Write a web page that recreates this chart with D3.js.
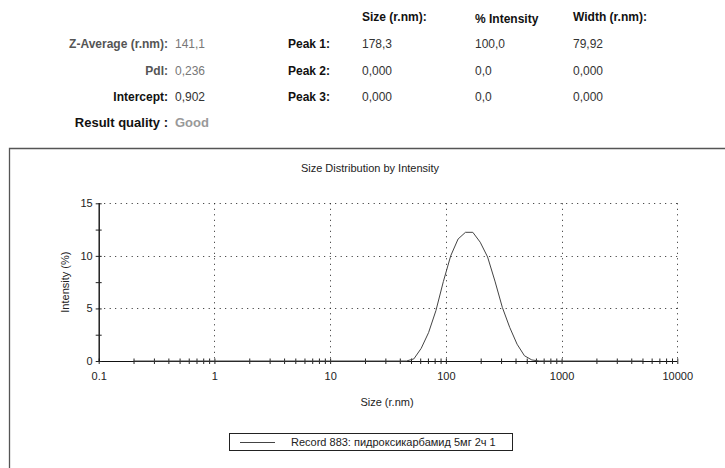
<!DOCTYPE html>
<html>
<head>
<meta charset="utf-8">
<script src="https://cdn.jsdelivr.net/npm/d3@7"></script>
<style>
  body { margin: 0; background: #fff; }
  svg { font-family: "Liberation Sans", Arial, sans-serif; display: block; }
</style>
</head>
<body>
<svg id="chart" width="725" height="468"></svg>
<script>
// summary block
const summaryLabels = ["Z-Average (r.nm):", "PdI:", "Intercept:", "Result quality :"]
const summaryValues = ["141,1", "0,236", "0,902", "Good"]
const peakHeaders = ["Size (r.nm):", "% Intensity", "Width (r.nm):"]
const peakLabels = ["Peak 1:", "Peak 2:", "Peak 3:"]
const peakSize = ["178,3", "0,000", "0,000"]
const peakIntensity = ["100,0", "0,0", "0,0"]
const peakWidth = ["79,92", "0,000", "0,000"]

// distribution (radius nm, intensity %)
const sizes = [0.2, 45.6, 52.9, 61.2, 70.9, 82.1, 95.1, 110.1, 127.5, 147.7, 171.0,
  198.0, 229.3, 265.6, 307.6, 356.2, 412.5, 477.7, 553.2, 640.6, 5000]
const intensity = [0, 0, 0.2, 1.2, 2.7, 4.8, 7.55, 10.0, 11.6, 12.24, 12.24,
  11.3, 9.9, 7.6, 5.1, 3.2, 1.6, 0.5, 0.1, 0, 0]

const xMajor = [0.1, 1, 10, 100, 1000, 10000]
const xMajorLabels = ["0.1", "1", "10", "100", "1000", "10000"]
const yMajor = [0, 5, 10, 15]
const yMinor = [2.5, 7.5, 12.5]
const legendLabel = "Record 883: пидроксикарбамид 5мг 2ч 1"

const svg = d3.select("#chart")

// ---- header table
const rowY = [48, 74.5, 101, 127]
const labelColors = ["#555", "#555", "#111", "#111"]
const valueColors = ["#777", "#777", "#333", "#999"]

summaryLabels.forEach((t, i) => {
  svg.append("text")
    .attr("x", 168).attr("y", rowY[i])
    .attr("text-anchor", "end")
    .attr("font-size", i == 3 ? 13 : 12)
    .attr("font-weight", "bold")
    .attr("fill", labelColors[i])
    .text(t)
  svg.append("text")
    .attr("x", 175).attr("y", rowY[i])
    .attr("font-size", i == 3 ? 13 : 12)
    .attr("font-weight", i == 3 ? "bold" : "normal")
    .attr("fill", valueColors[i])
    .text(summaryValues[i])
})

const colX = [362, 475, 573]
const headY = [21, 23, 21]
peakHeaders.forEach((t, i) => {
  svg.append("text")
    .attr("x", colX[i]).attr("y", headY[i])
    .attr("font-size", 12).attr("font-weight", "bold")
    .attr("fill", "#111")
    .text(t)
})
peakLabels.forEach((t, i) => {
  svg.append("text")
    .attr("x", 288).attr("y", rowY[i])
    .attr("font-size", 12).attr("font-weight", "bold")
    .attr("fill", "#111")
    .text(t)
  ;[peakSize, peakIntensity, peakWidth].forEach((col, j) => {
    svg.append("text")
      .attr("x", colX[j]).attr("y", rowY[i])
      .attr("font-size", 12)
      .attr("fill", "#333")
      .text(col[i])
  })
})

// ---- panel frame (continues past the window edge)
svg.append("path")
  .attr("d", "M9.5,480V148.5H730")
  .attr("fill", "none")
  .attr("stroke", "#555")
  .attr("stroke-width", 1.3)

const plot = {left: 98.7, right: 677.3, top: 203.3, bottom: 361}

const xScale = d3.scaleLog().domain([0.1, 10000]).range([plot.left, plot.right])
const yScale = d3.scaleLinear().domain([0, 15]).range([plot.bottom, plot.top])

svg.append("text")
  .attr("x", 370).attr("y", 172)
  .attr("text-anchor", "middle")
  .attr("font-size", 11).attr("fill", "#222")
  .text("Size Distribution by Intensity")

// dotted grid
const grid = svg.append("g").attr("stroke", "#222").attr("stroke-dasharray", "1,4.5")
grid.selectAll(".gy").data(yMajor.filter(d => d > 0)).enter().append("line")
  .attr("x1", plot.left).attr("x2", plot.right)
  .attr("y1", d => Math.round(yScale(d)) + 0.5).attr("y2", d => Math.round(yScale(d)) + 0.5)
grid.selectAll(".gx").data(xMajor.filter(d => d > 0.1)).enter().append("line")
  .attr("x1", d => Math.round(xScale(d)) + 0.5).attr("x2", d => Math.round(xScale(d)) + 0.5)
  .attr("y1", plot.top).attr("y2", plot.bottom)

// x axis, ticks cross the line
let xTicks = []
xMajor.slice(0, -1).forEach(d => {
  for (let k = 1; k < 10; k++) xTicks.push(d * k)
})
xTicks.push(10000)

const xAxis = d3.axisBottom(xScale)
  .tickValues(xTicks)
  .tickSize(3)
  .tickFormat(d => {
    const i = xMajor.findIndex(v => Math.abs(v - d) / v < 1e-6)
    return i >= 0 ? xMajorLabels[i] : ""
  })

const xG = svg.append("g")
  .attr("transform", "translate(0," + plot.bottom + ")")
  .call(xAxis)
xG.select(".domain").attr("stroke", "#111").attr("d", "M" + plot.left + ",0.5H" + plot.right)
xG.selectAll(".tick line").attr("y1", -2.5).attr("y2", 3).attr("stroke", "#222")
xG.selectAll(".tick text")
  .attr("y", 11).attr("font-size", 11).attr("fill", "#222")
  .attr("font-family", "Liberation Sans, Arial, sans-serif")

// y axis
const yAxis = d3.axisLeft(yScale)
  .tickValues(yMajor.concat(yMinor))
  .tickSize(3)
  .tickFormat(d => yMajor.includes(d) ? d : "")

const yG = svg.append("g")
  .attr("transform", "translate(" + plot.left + ",0)")
  .call(yAxis)
yG.select(".domain").attr("stroke", "#111").attr("stroke-width", 1.4).attr("d", "M0.5," + plot.top + "V" + plot.bottom)
yG.selectAll(".tick line").attr("x1", 3).attr("x2", -3).attr("stroke", "#222")
yG.selectAll(".tick text")
  .attr("x", -6).attr("font-size", 11).attr("fill", "#222")
  .attr("font-family", "Liberation Sans, Arial, sans-serif")

svg.append("text")
  .attr("transform", "translate(69," + ((plot.top + plot.bottom) / 2) + ") rotate(-90)")
  .attr("text-anchor", "middle")
  .attr("font-size", 11).attr("fill", "#222")
  .text("Intensity (%)")

svg.append("text")
  .attr("x", 387).attr("y", 406)
  .attr("text-anchor", "middle")
  .attr("font-size", 11).attr("fill", "#222")
  .text("Size (r.nm)")

// distribution curve
const line = d3.line()
  .x(d => xScale(d[0]))
  .y(d => yScale(d[1]))

svg.append("path")
  .datum(sizes.map((s, i) => [s, intensity[i]]))
  .attr("d", line)
  .attr("fill", "none")
  .attr("stroke", "#444")
  .attr("stroke-width", 1)

// legend
const lg = svg.append("g")
lg.append("rect")
  .attr("x", 229.5).attr("y", 433.5)
  .attr("width", 283).attr("height", 17)
  .attr("fill", "#fff").attr("stroke", "#222")
lg.append("line")
  .attr("x1", 240).attr("x2", 275)
  .attr("y1", 442.5).attr("y2", 442.5)
  .attr("stroke", "#444")
lg.append("text")
  .attr("x", 291).attr("y", 446)
  .attr("font-size", 11).attr("fill", "#222")
  .text(legendLabel)
</script>
</body>
</html>
